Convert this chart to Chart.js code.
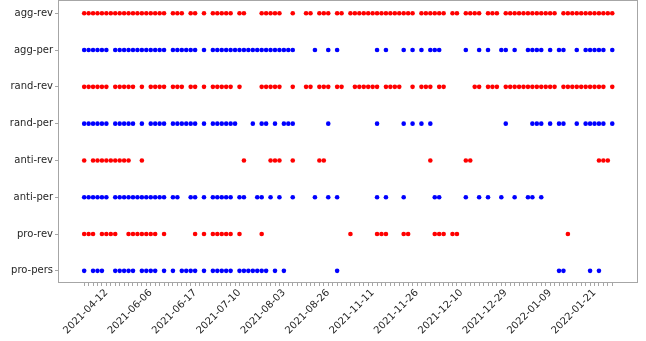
<!DOCTYPE html>
<html>
<head>
<meta charset="utf-8">
<script src="https://cdn.jsdelivr.net/npm/chart.js@4.4.0/dist/chart.umd.min.js"></script>
<style>
  html, body { margin: 0; padding: 0; background: #fff; }
  #chart { display: block; }
</style>
</head>
<body>
<canvas id="chart" width="646" height="341"></canvas>
<script>
// 行标签（从上到下）
const rowLabels = ['agg-rev', 'agg-per', 'rand-rev', 'rand-per', 'anti-rev', 'anti-per', 'pro-rev', 'pro-pers'];

// x 轴日期标签：共 120 个日期，从第 5 个起每 10 个标一次
const dateTicks = ['2021-04-12', '2021-06-06', '2021-06-17', '2021-07-10', '2021-08-03', '2021-08-26',
                   '2021-11-11', '2021-11-26', '2021-12-10', '2021-12-29', '2022-01-09', '2022-01-21'];
const dayCount = 120;
const tickStart = 5;
const tickEvery = 10;

// 每行出现点的日期序号区间 [起, 止]
const aggRev   = [[0,18],[20,22],[24,25],[27,27],[29,33],[35,36],[40,44],[47,47],[50,51],[53,55],[57,58],
                  [60,74],[76,81],[83,84],[86,89],[91,93],[95,106],[108,119]];
const aggPer   = [[0,5],[7,18],[20,25],[27,27],[29,47],[52,52],[55,55],[57,57],[66,66],[68,68],[72,72],[74,74],
                  [76,76],[78,80],[86,86],[89,89],[91,91],[94,95],[97,97],[100,103],[105,105],[107,108],[111,111],
                  [113,117],[119,119]];
const randRev  = [[0,5],[7,11],[13,13],[15,18],[20,22],[24,25],[27,27],[29,33],[35,35],[40,44],[47,47],[50,51],
                  [53,55],[57,58],[61,66],[68,71],[74,74],[76,78],[80,81],[88,89],[91,93],[95,106],[108,117],[119,119]];
const randPer  = [[0,5],[7,11],[13,13],[15,18],[20,25],[27,27],[29,34],[38,38],[40,41],[43,43],[45,47],[55,55],
                  [66,66],[72,72],[74,74],[76,76],[78,78],[95,95],[101,103],[105,105],[107,108],[111,111],
                  [113,117],[119,119]];
const antiRev  = [[0,0],[2,10],[13,13],[36,36],[42,44],[47,47],[53,54],[78,78],[86,87],[116,118]];
const antiPer  = [[0,5],[7,18],[20,21],[24,25],[27,27],[29,33],[35,36],[39,40],[42,42],[44,44],[47,47],[52,52],
                  [55,55],[57,57],[66,66],[68,68],[72,72],[79,80],[86,86],[89,89],[91,91],[94,94],[97,97],
                  [100,101],[103,103]];
const proRev   = [[0,2],[4,7],[10,16],[18,18],[25,25],[27,27],[29,33],[35,35],[40,40],[60,60],[66,68],[72,73],
                  [79,81],[83,84],[109,109]];
const proPers  = [[0,0],[2,4],[7,11],[13,16],[18,18],[20,20],[22,25],[27,27],[29,33],[35,41],[43,43],[45,45],
                  [57,57],[107,108],[114,114],[116,116]];

const rowRuns = [aggRev, aggPer, randRev, randPer, antiRev, antiPer, proRev, proPers];
const rowColors = ['#ff0000', '#0000ff', '#ff0000', '#0000ff', '#ff0000', '#0000ff', '#ff0000', '#0000ff'];

// 区间展开成散点
function runsToPoints(runs, row) {
    const pts = [];
    runs.forEach(([a, b]) => {
        for (let d = a; d <= b; d++) pts.push({ x: d, y: row });
    });
    return pts;
}

const axisColor = '#a6a6a6';
const textColor = '#262626';
const font = { family: 'DejaVu Sans', size: 10 };

// 画四周边框
const frame = {
    id: 'frame',
    afterDraw(chart) {
        const { ctx, chartArea: a } = chart;
        ctx.save();
        ctx.strokeStyle = axisColor;
        ctx.lineWidth = 1;
        ctx.strokeRect(Math.round(a.left) + 0.5, Math.round(a.top) + 0.5,
                       Math.round(a.right - a.left) - 1, Math.round(a.bottom - a.top) - 1);
        ctx.restore();
    }
};

// 去掉自动留白，让绘图区贴近画布边缘
const noPad = (s) => {
    s.paddingTop = 0;
    s.paddingBottom = 0;
    s.paddingLeft = 0;
    s.paddingRight = 0;
};

new Chart(document.getElementById('chart'), {
    type: 'scatter',
    data: {
        datasets: rowRuns.map((runs, i) => ({
            label: rowLabels[i],
            data: runsToPoints(runs, i),
            backgroundColor: rowColors[i],
            borderColor: rowColors[i],
            borderWidth: 0,
            pointRadius: 2.3,
            pointHoverRadius: 2.3
        }))
    },
    options: {
        responsive: false,
        animation: false,
        devicePixelRatio: 1,
        layout: { autoPadding: false, padding: { left: 0, right: 8, top: 0, bottom: 0 } },
        plugins: { legend: { display: false }, tooltip: { enabled: false } },
        scales: {
            x: {
                type: 'linear',
                min: -5.9,
                max: 124.8,
                afterBuildTicks: (s) => {
                    s.ticks = Array.from({ length: dayCount }, (_, d) => ({ value: d }));
                },
                afterFit: (s) => {
                    s.height = 58;
                    noPad(s);
                },
                border: { display: false },
                grid: { drawOnChartArea: false, drawTicks: true, tickLength: 3, color: axisColor },
                ticks: {
                    autoSkip: false,
                    minRotation: 45,
                    maxRotation: 45,
                    padding: 1,
                    color: textColor,
                    font: font,
                    callback: (v) => ((v - tickStart) % tickEvery === 0 ? dateTicks[(v - tickStart) / tickEvery] : '')
                }
            },
            y: {
                type: 'linear',
                reverse: true,
                min: -0.36,
                max: 7.33,
                afterBuildTicks: (s) => {
                    s.ticks = rowLabels.map((_, i) => ({ value: i }));
                },
                afterFit: (s) => {
                    s.width = 58;
                    noPad(s);
                },
                border: { display: false },
                grid: { drawOnChartArea: false, drawTicks: true, tickLength: 3, color: axisColor },
                ticks: {
                    autoSkip: false,
                    padding: 2,
                    color: textColor,
                    font: font,
                    callback: (v) => rowLabels[v]
                }
            }
        }
    },
    plugins: [frame]
});
</script>
</body>
</html>
